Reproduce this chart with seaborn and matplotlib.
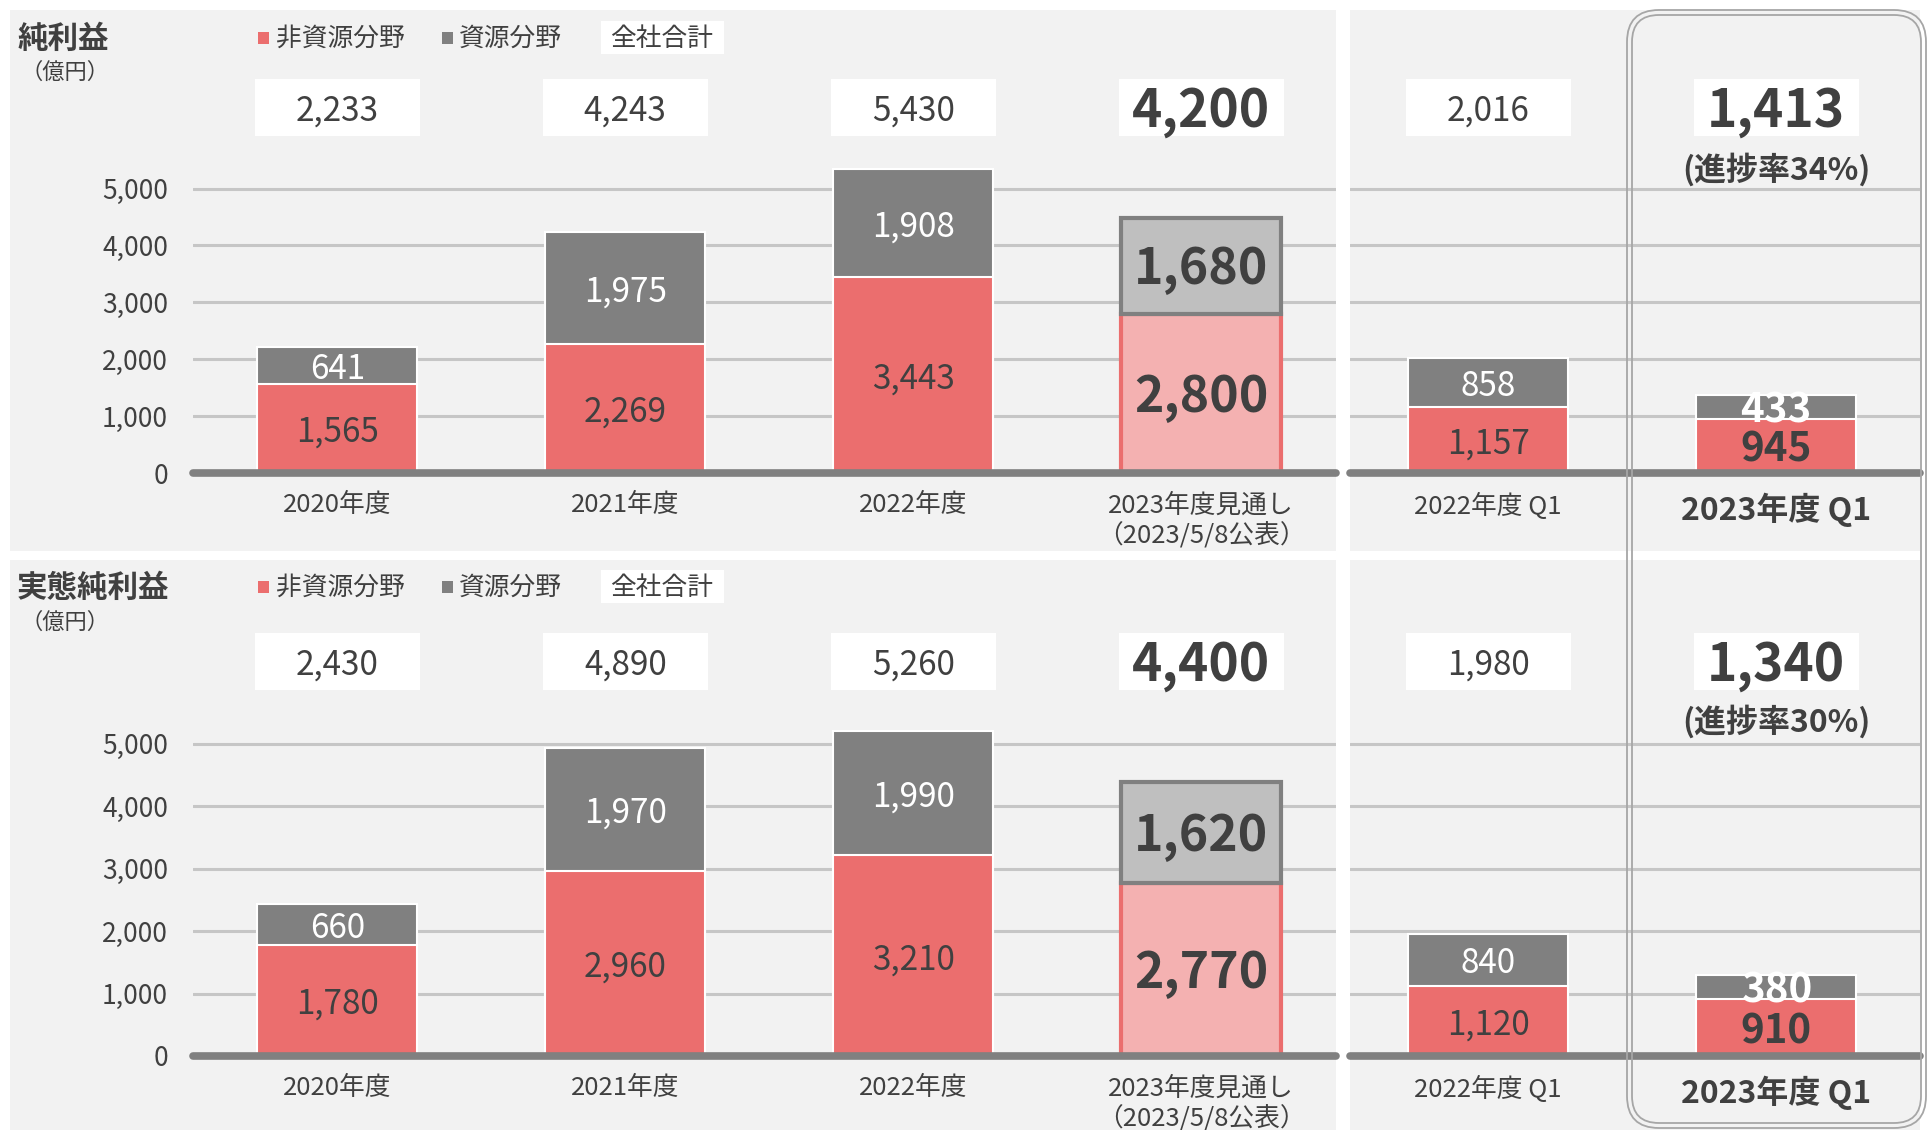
"""Net profit by segment: annual results, FY2023 forecast and Q1 comparison."""
import pandas as pd
import seaborn as sns
import matplotlib.pyplot as plt
from matplotlib.patches import Rectangle, FancyBboxPatch
from matplotlib.transforms import offset_copy

W, H = 1930, 1130

CATEGORIES = ["2020年度", "2021年度", "2022年度", "2023年度見通し\n（2023/5/8公表）", "2022年度 Q1", "2023年度 Q1"]
KINDS = ["actual", "actual", "actual", "forecast", "actual", "highlight"]
NET_NONRES = [1565, 2269, 3443, 2800, 1157, 945]
NET_RES = [641, 1975, 1908, 1680, 858, 433]
NET_TOTAL = [2233, 4243, 5430, 4200, 2016, 1413]
CORE_NONRES = [1780, 2960, 3210, 2770, 1120, 910]
CORE_RES = [660, 1970, 1990, 1620, 840, 380]
CORE_TOTAL = [2430, 4890, 5260, 4400, 1980, 1340]
YTICKS = [0, 1000, 2000, 3000, 4000, 5000]

RED = "#EB6E6E"
GRAY = "#808080"
PINK = "#F4B1B1"
LIGHT_GRAY = "#BFBFBF"
PANEL = "#F2F2F2"
TEXT = "#404040"
GRID = "#C6C6C6"
BAR_W = 0.555
BOX_W = 0.573

ROWS = [
    dict(title="純利益", nonres=NET_NONRES, res=NET_RES, total=NET_TOTAL, progress="(進捗率34%)",
         top=10, bottom=551, zero=473, unit=56.9, box_y=107, prog_y=166, legend_y=39, sub_y=72),
    dict(title="実態純利益", nonres=CORE_NONRES, res=CORE_RES, total=CORE_TOTAL, progress="(進捗率30%)",
         top=560, bottom=1130, zero=1056, unit=62.5, box_y=661, prog_y=718, legend_y=588, sub_y=622),
]

LABEL_STYLE = {
    "actual": dict(red=(TEXT, 24, "normal"), gray=("white", 24, "normal"), total=(TEXT, 24, "normal")),
    "forecast": dict(red=(TEXT, 36, "bold"), gray=(TEXT, 36, "bold"), total=(TEXT, 37, "bold")),
    "highlight": dict(red=(TEXT, 29, "bold"), gray=("white", 29, "bold"), total=(TEXT, 37, "bold")),
}


def fig_rect(fig, x0, y0, x1, y1, **kw):
    # box in pixels, measured from the top-left corner of the figure
    fig.patches.append(Rectangle((x0 / 100, (H - y1) / 100), (x1 - x0) / 100, (y1 - y0) / 100,
                                 transform=fig.dpi_scale_trans, **kw))


def fig_text(fig, x, y, s, **kw):
    fig.text(x / W, 1 - y / H, s, color=kw.pop("color", TEXT), **kw)


def draw_panel(fig, ax, idx, row, ymax, show_y):
    df = pd.DataFrame({
        "cat": [CATEGORIES[i] for i in idx],
        "nonres": [row["nonres"][i] for i in idx],
        "stack": [row["nonres"][i] + row["res"][i] for i in idx],
    })
    sns.barplot(data=df, x="cat", y="stack", color=GRAY, saturation=1, width=BAR_W, edgecolor="white",
                linewidth=1.5, errorbar=None, zorder=2, ax=ax)
    sns.barplot(data=df, x="cat", y="nonres", color=RED, saturation=1, width=BAR_W, edgecolor="white",
                linewidth=1.5, errorbar=None, zorder=2, ax=ax)
    # CJK font metrics put centred digits a touch high, nudge them down
    tr = offset_copy(ax.transData, fig=fig, y=-4, units="dots")
    n = len(idx)
    box_h = 57 / row["unit"] * 1000
    box_c = (row["zero"] - row["box_y"]) / row["unit"] * 1000
    for j, i in enumerate(idx):
        red, res, kind = row["nonres"][i], row["res"][i], KINDS[i]
        style = LABEL_STYLE[kind]
        if kind == "forecast":
            gp, rp = ax.patches[j], ax.patches[n + j]
            gp.set_y(red)
            gp.set_height(res)
            gp.set(facecolor=LIGHT_GRAY, edgecolor=GRAY, linewidth=3, zorder=3)
            rp.set(facecolor=PINK, edgecolor=RED, linewidth=3)
        c, s, w = style["red"]
        ax.text(j, red / 2, f"{red:,}", ha="center", va="center", color=c, fontsize=s, fontweight=w,
                zorder=5, transform=tr)
        c, s, w = style["gray"]
        ax.text(j, red + res / 2, f"{res:,}", ha="center", va="center", color=c, fontsize=s, fontweight=w,
                zorder=5, transform=tr)
        ax.add_patch(Rectangle((j - BOX_W / 2, box_c - box_h / 2), BOX_W, box_h, facecolor="white",
                               edgecolor="none", zorder=1, clip_on=False))
        c, s, w = style["total"]
        ax.text(j, box_c, f"{row['total'][i]:,}", ha="center", va="center", color=c, fontsize=s,
                fontweight=w, zorder=5, transform=tr)
        if kind == "highlight":
            prog_c = (row["zero"] - row["prog_y"]) / row["unit"] * 1000
            ax.text(j, prog_c, row["progress"], ha="center", va="center", color=TEXT, fontsize=23,
                    fontweight="bold", zorder=5, transform=tr)
    ax.set_ylim(0, ymax)
    ax.set_yticks(YTICKS)
    ax.set_yticklabels([f"{v:,}" for v in YTICKS])
    ax.set_axisbelow(True)
    ax.yaxis.grid(True, color=GRID, linewidth=2.2)
    ax.xaxis.grid(False)
    ax.axhline(0, color=GRAY, linewidth=5.5, zorder=4, clip_on=False)
    ax.set_facecolor("none")
    ax.set_xlabel("")
    ax.set_ylabel("")
    sns.despine(ax=ax, left=True, bottom=True)
    ax.tick_params(axis="y", length=0, pad=18, labelsize=19, labelcolor=TEXT, labelleft=show_y)
    ax.tick_params(axis="x", length=0, pad=14, labelsize=18.5, labelcolor=TEXT)
    ax.set_xticks(range(n), labels=[CATEGORIES[i] for i in idx])
    for lab, i in zip(ax.get_xticklabels(), idx):
        lab.set_linespacing(1.2)
        if KINDS[i] == "highlight":
            lab.set_fontweight("bold")
            lab.set_fontsize(23)


def main() -> None:
    sns.set_theme(style="white")
    plt.rcParams["font.family"] = ["Noto Sans CJK JP", "DejaVu Sans"]
    fig = plt.figure(figsize=(W / 100, H / 100), dpi=100, facecolor="white")

    for row in ROWS:
        for x0, x1 in [(10, 1336), (1350, 1920)]:
            fig_rect(fig, x0, row["top"], x1, row["bottom"], facecolor=PANEL, edgecolor="none", zorder=-5)
        ymax = (row["zero"] - row["top"]) / row["unit"] * 1000
        bottom = (H - row["zero"]) / H
        height = (row["zero"] - row["top"]) / H
        ax_l = fig.add_axes([193 / W, bottom, (1336 - 193) / W, height])
        ax_r = fig.add_axes([1350 / W, bottom, (1920 - 1350) / W, height])
        draw_panel(fig, ax_l, [0, 1, 2, 3], row, ymax, True)
        draw_panel(fig, ax_r, [4, 5], row, ymax, False)
        ax_l.set_xlim((193 - 337.3) / 288, (1336 - 337.3) / 288)
        ax_r.set_xlim((1350 - 1488.2) / 288, (1920 - 1488.2) / 288)

        ly = row["legend_y"]
        fig_text(fig, 17, ly, row["title"], fontsize=22, fontweight="bold", va="center")
        fig_text(fig, 20, row["sub_y"], "（億円）", fontsize=16, va="center")
        fig_rect(fig, 258, ly - 7, 269, ly + 5, facecolor=RED, edgecolor="none", zorder=3)
        fig_text(fig, 276, ly, "非資源分野", fontsize=18.5, va="center")
        fig_rect(fig, 442, ly - 7, 453, ly + 5, facecolor=GRAY, edgecolor="none", zorder=3)
        fig_text(fig, 459, ly, "資源分野", fontsize=18.5, va="center")
        fig_rect(fig, 601, ly - 18, 724, ly + 15, facecolor="white", edgecolor="none", zorder=2)
        fig_text(fig, 662, ly, "全社合計", fontsize=18.5, va="center", ha="center")

    # double-lined rounded frame around the latest quarter
    for inset, r in [(0, 0.32), (5, 0.27)]:
        x0, y0, x1, y1 = 1627 + inset, 10 + inset, 1926 - inset, 1128 - inset
        fig.patches.append(FancyBboxPatch((x0 / 100, (H - y1) / 100), (x1 - x0) / 100, (y1 - y0) / 100,
                                          boxstyle=f"round,pad=0,rounding_size={r}", transform=fig.dpi_scale_trans,
                                          facecolor="none", edgecolor="#A6A6A6", linewidth=1.3, zorder=6))

    fig.savefig("out.png", dpi=100, facecolor="white")
    plt.close(fig)


if __name__ == "__main__":
    main()
